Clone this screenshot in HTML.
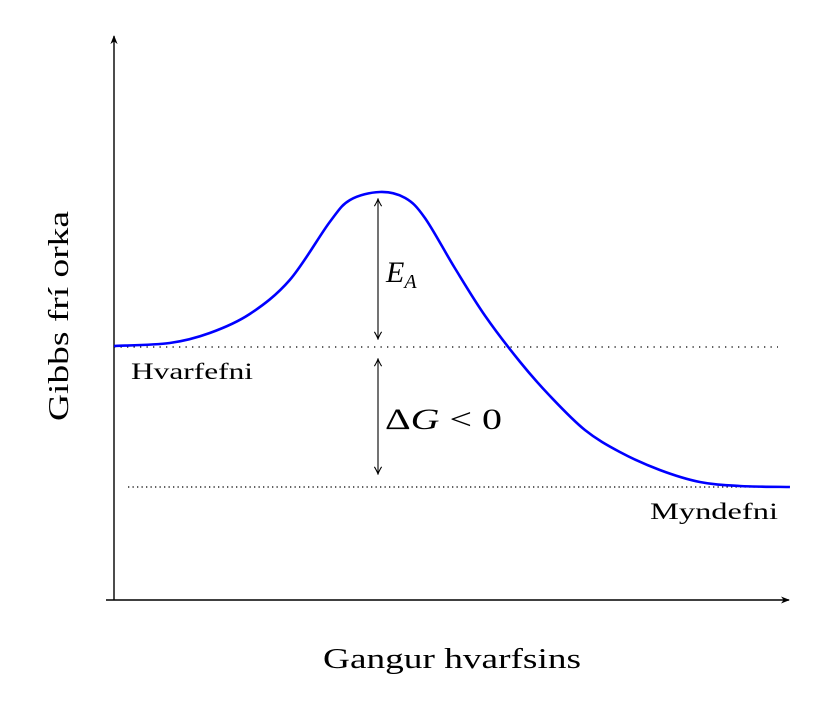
<!DOCTYPE html>
<html><head><meta charset="utf-8"><style>
html,body{margin:0;padding:0;background:#fff;}
svg{display:block;font-family:"Liberation Serif",serif;}
</style></head><body>
<svg id="c" width="840" height="721" viewBox="0 0 840 721">
<defs>
<marker id="ah" viewBox="0 0 10 10" refX="9" refY="5" markerWidth="9" markerHeight="9" orient="auto-start-reverse" markerUnits="userSpaceOnUse"><path d="M0,1 L10,5 L0,9 L3,5 Z" fill="#000"/></marker>
<marker id="op" viewBox="0 0 10 10" refX="9" refY="5" markerWidth="9" markerHeight="9" orient="auto-start-reverse" markerUnits="userSpaceOnUse"><path d="M1,1 Q6,4 9,5 Q6,6 1,9" fill="none" stroke="#000" stroke-width="1.2"/></marker>
</defs>
<line x1="114" y1="600" x2="114" y2="36" stroke="#000" stroke-width="1.4" marker-end="url(#ah)"/>
<line x1="106" y1="600" x2="789" y2="600" stroke="#000" stroke-width="1.4" marker-end="url(#ah)"/>
<g id="plot"></g>
<text transform="translate(68,316) rotate(-90)" text-anchor="middle" font-size="28" textLength="210" lengthAdjust="spacingAndGlyphs">Gibbs frí orka</text>
<text x="452" y="668" text-anchor="middle" font-size="28" textLength="258" lengthAdjust="spacingAndGlyphs">Gangur hvarfsins</text>
<text x="131" y="379" font-size="23" textLength="122" lengthAdjust="spacingAndGlyphs">Hvarfefni</text>
<text x="650" y="519" font-size="23" textLength="128" lengthAdjust="spacingAndGlyphs">Myndefni</text>
<text x="386" y="282" font-size="30" font-style="italic">E<tspan font-size="20" dy="6">A</tspan></text>
<text x="385" y="429" font-size="30" textLength="117" lengthAdjust="spacingAndGlyphs">Δ<tspan font-style="italic">G</tspan> &lt; 0</text>
</svg>
<script>
const progress=[0,0.99,1.70,2.41,3.12,3.83,4.19,4.72,5.17,5.52,6.05,6.59,7.21,7.74,8.36,8.98,9.69,10.40,11.11,12.0];
const energy=[5.08,5.14,5.34,5.72,6.40,7.56,8.0,8.16,8.04,7.64,6.64,5.68,4.76,4.08,3.40,2.96,2.60,2.36,2.28,2.26];
const reactantLevel=5.06;
const productLevel=2.26;
const peakEnergy=8.16;
const X=v=>114+v*56.33, Y=v=>600-v*50;
const NS="http://www.w3.org/2000/svg", g=document.getElementById('plot');
function mk(t,a){const e=document.createElementNS(NS,t);for(const k in a)e.setAttribute(k,a[k]);g.appendChild(e);return e;}
let l1=mk('line',{x1:114,y1:Y(reactantLevel),x2:778,y2:Y(reactantLevel),stroke:'#000','stroke-width':1.3,'stroke-dasharray':'1.3 5.2'});


let l2=mk('line',{x1:128,y1:Y(productLevel),x2:778,y2:Y(productLevel),stroke:'#000','stroke-width':1.3,'stroke-dasharray':'1.3 3.2'});


const P=progress.map((p,i)=>[X(p),Y(energy[i])]);
let d='M'+P[0][0]+','+P[0][1];
for(let i=0;i<P.length-1;i++){const p0=P[Math.max(0,i-1)],p1=P[i],p2=P[i+1],p3=P[Math.min(P.length-1,i+2)];
d+=' C'+(p1[0]+(p2[0]-p0[0])/6)+','+(p1[1]+(p2[1]-p0[1])/6)+' '+(p2[0]-(p3[0]-p1[0])/6)+','+(p2[1]-(p3[1]-p1[1])/6)+' '+p2[0]+','+p2[1];}
let c=mk('path',{d:d,fill:'none',stroke:'#0000ff','stroke-width':2.6});


const ax=378;
let a1=mk('line',{x1:ax,y1:Y(peakEnergy)+7,x2:ax,y2:Y(reactantLevel)-8,stroke:'#000','stroke-width':1.1,'marker-start':'url(#op)','marker-end':'url(#op)'});


let a2=mk('line',{x1:ax,y1:Y(reactantLevel)+12,x2:ax,y2:Y(productLevel)-13,stroke:'#000','stroke-width':1.1,'marker-start':'url(#op)','marker-end':'url(#op)'});


</script>
</body></html>
